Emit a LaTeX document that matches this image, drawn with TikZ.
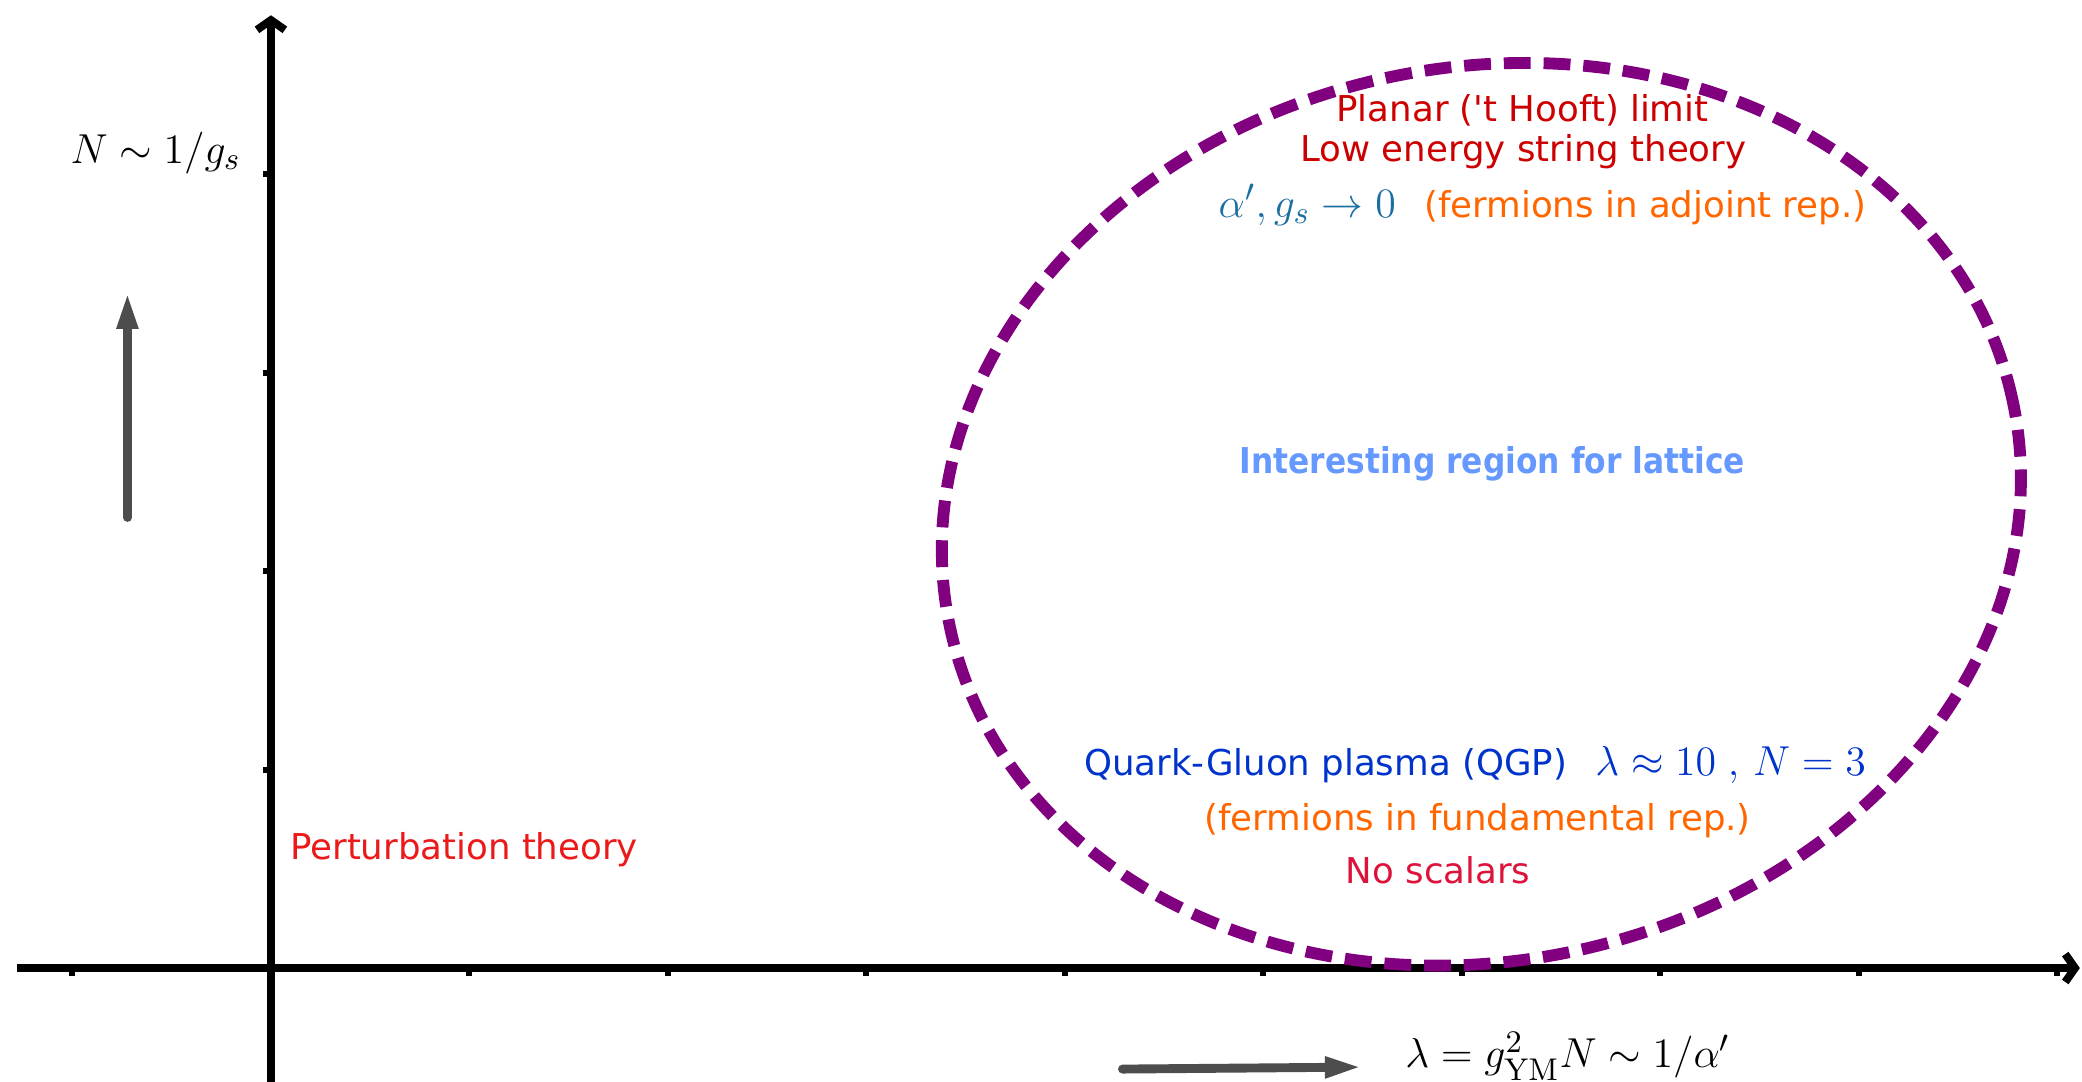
\documentclass[tikz,border=0pt]{standalone}
\usepackage{amsmath,amssymb}
\usepackage[no-math]{fontspec}
\setmainfont{DejaVu Sans}
\newfontfamily\estreita{DejaVu Sans}[FakeStretch=0.88]
\usepackage{xcolor}
\usepackage{tikz}
\usetikzlibrary{arrows.meta,positioning}
\definecolor{roxo}{RGB}{128,0,128}
\definecolor{cinza}{RGB}{77,77,77}
\definecolor{vermelhoEscuro}{RGB}{204,0,0}
\definecolor{vermelhoVivo}{RGB}{235,25,25}
\definecolor{azulPetroleo}{RGB}{26,110,160}
\definecolor{laranja}{RGB}{255,102,0}
\definecolor{azulClaro}{RGB}{102,153,255}
\definecolor{azulForte}{RGB}{0,51,204}
\definecolor{carmim}{RGB}{220,20,60}
\newcommand{\formula}[1]{{\fontsize{12.6}{15}\selectfont$#1$}}
\tikzset{
    eixo/.style={
        line width=2.27pt,
        -{Straight Barb[length=2.8pt,width=8pt]}
    },
    marca/.style={line width=1.7pt},
    seta/.style={
        cinza,
        line width=2.55pt,
        line cap=round,
        -{Triangle[length=10.6pt,width=5.6pt]}
    },
    rotulo/.style={inner sep=0pt, font=\fontsize{10.2}{12}\selectfont},
    destaque/.style={inner sep=0pt, font=\fontsize{10.2}{12}\selectfont\estreita\bfseries},
    formula/.style={inner sep=0pt, font=\fontsize{12.6}{15}\selectfont},
    regiao/.style={roxo, line width=3.4pt, dash pattern=on 7.7pt off 3.7pt}
}

\begin{document}
\begin{tikzpicture}[x=2cm, y=2cm]
        \useasboundingbox (-1.365,-0.574) rectangle (9.124,4.877);

        % eixos
        \draw[eixo] (-1.28,0) -- (9.113,0);
        \draw[eixo] (0,-0.7) -- (0,4.80);
        \foreach \x in {-1,1,2,...,9}
            \draw[marca] (\x,0) -- (\x,-0.04);
        \foreach \y in {1,...,4}
            \draw[marca] (0,\y) -- (-0.04,\y);

        \node[formula, anchor=base] (rotN) at (-0.58,4.055) {$N\sim 1/g_s$};
        \node[formula, anchor=base] (rotLambda) at (6.534,-0.50)
            {$\lambda=g^2_{\mathrm{YM}}N\sim 1/\alpha'$};

        % setas cinzas
        \coordinate (nBase) at (-0.723,2.27);
        \coordinate (nTopo) at (-0.723,3.406);
        \coordinate (lBase) at (4.29,-0.509);
        \coordinate (lTopo) at (5.496,-0.499);
        \draw[seta] (nBase) -- (nTopo);
        \draw[seta] (lBase) -- (lTopo);

        % regiao de interesse
        \draw[regiao, rotate around={12:(6.098,2.286)}]
            (6.098,2.286) ellipse [x radius=2.737, y radius=2.250];

        \node[rotulo, vermelhoEscuro, anchor=base] (planar) at (6.305,4.263)
            {Planar (\textquotesingle t Hooft) limit};
        \node[rotulo, vermelhoEscuro, anchor=base] (corda) at (6.31,4.062)
            {Low energy string theory};
        \node[rotulo, anchor=base west] (adjunta) at (4.771,3.783)
            {\color{azulPetroleo}\formula{\alpha', g_s\to 0}\hspace{0.8em}%
             \color{laranja}(fermions in adjoint rep.)};
        \node[destaque, azulClaro, anchor=base] (rede) at (6.153,2.489)
            {Interesting region for lattice};
        \node[rotulo, azulForte, anchor=base west] (qgp) at (4.094,0.972)
            {Quark-Gluon plasma (QGP)\hspace{0.8em}\formula{\lambda\approx 10\;,\,N=3}};
        \node[rotulo, laranja, anchor=base] (fundamental) at (6.079,0.695)
            {(fermions in fundamental rep.)};
        \node[rotulo, carmim, anchor=base] (escalares) at (5.880,0.428)
            {No scalars};
        \node[rotulo, vermelhoVivo, anchor=base] (perturbativa) at (0.973,0.549)
            {Perturbation theory};
    \end{tikzpicture}
\end{document}
